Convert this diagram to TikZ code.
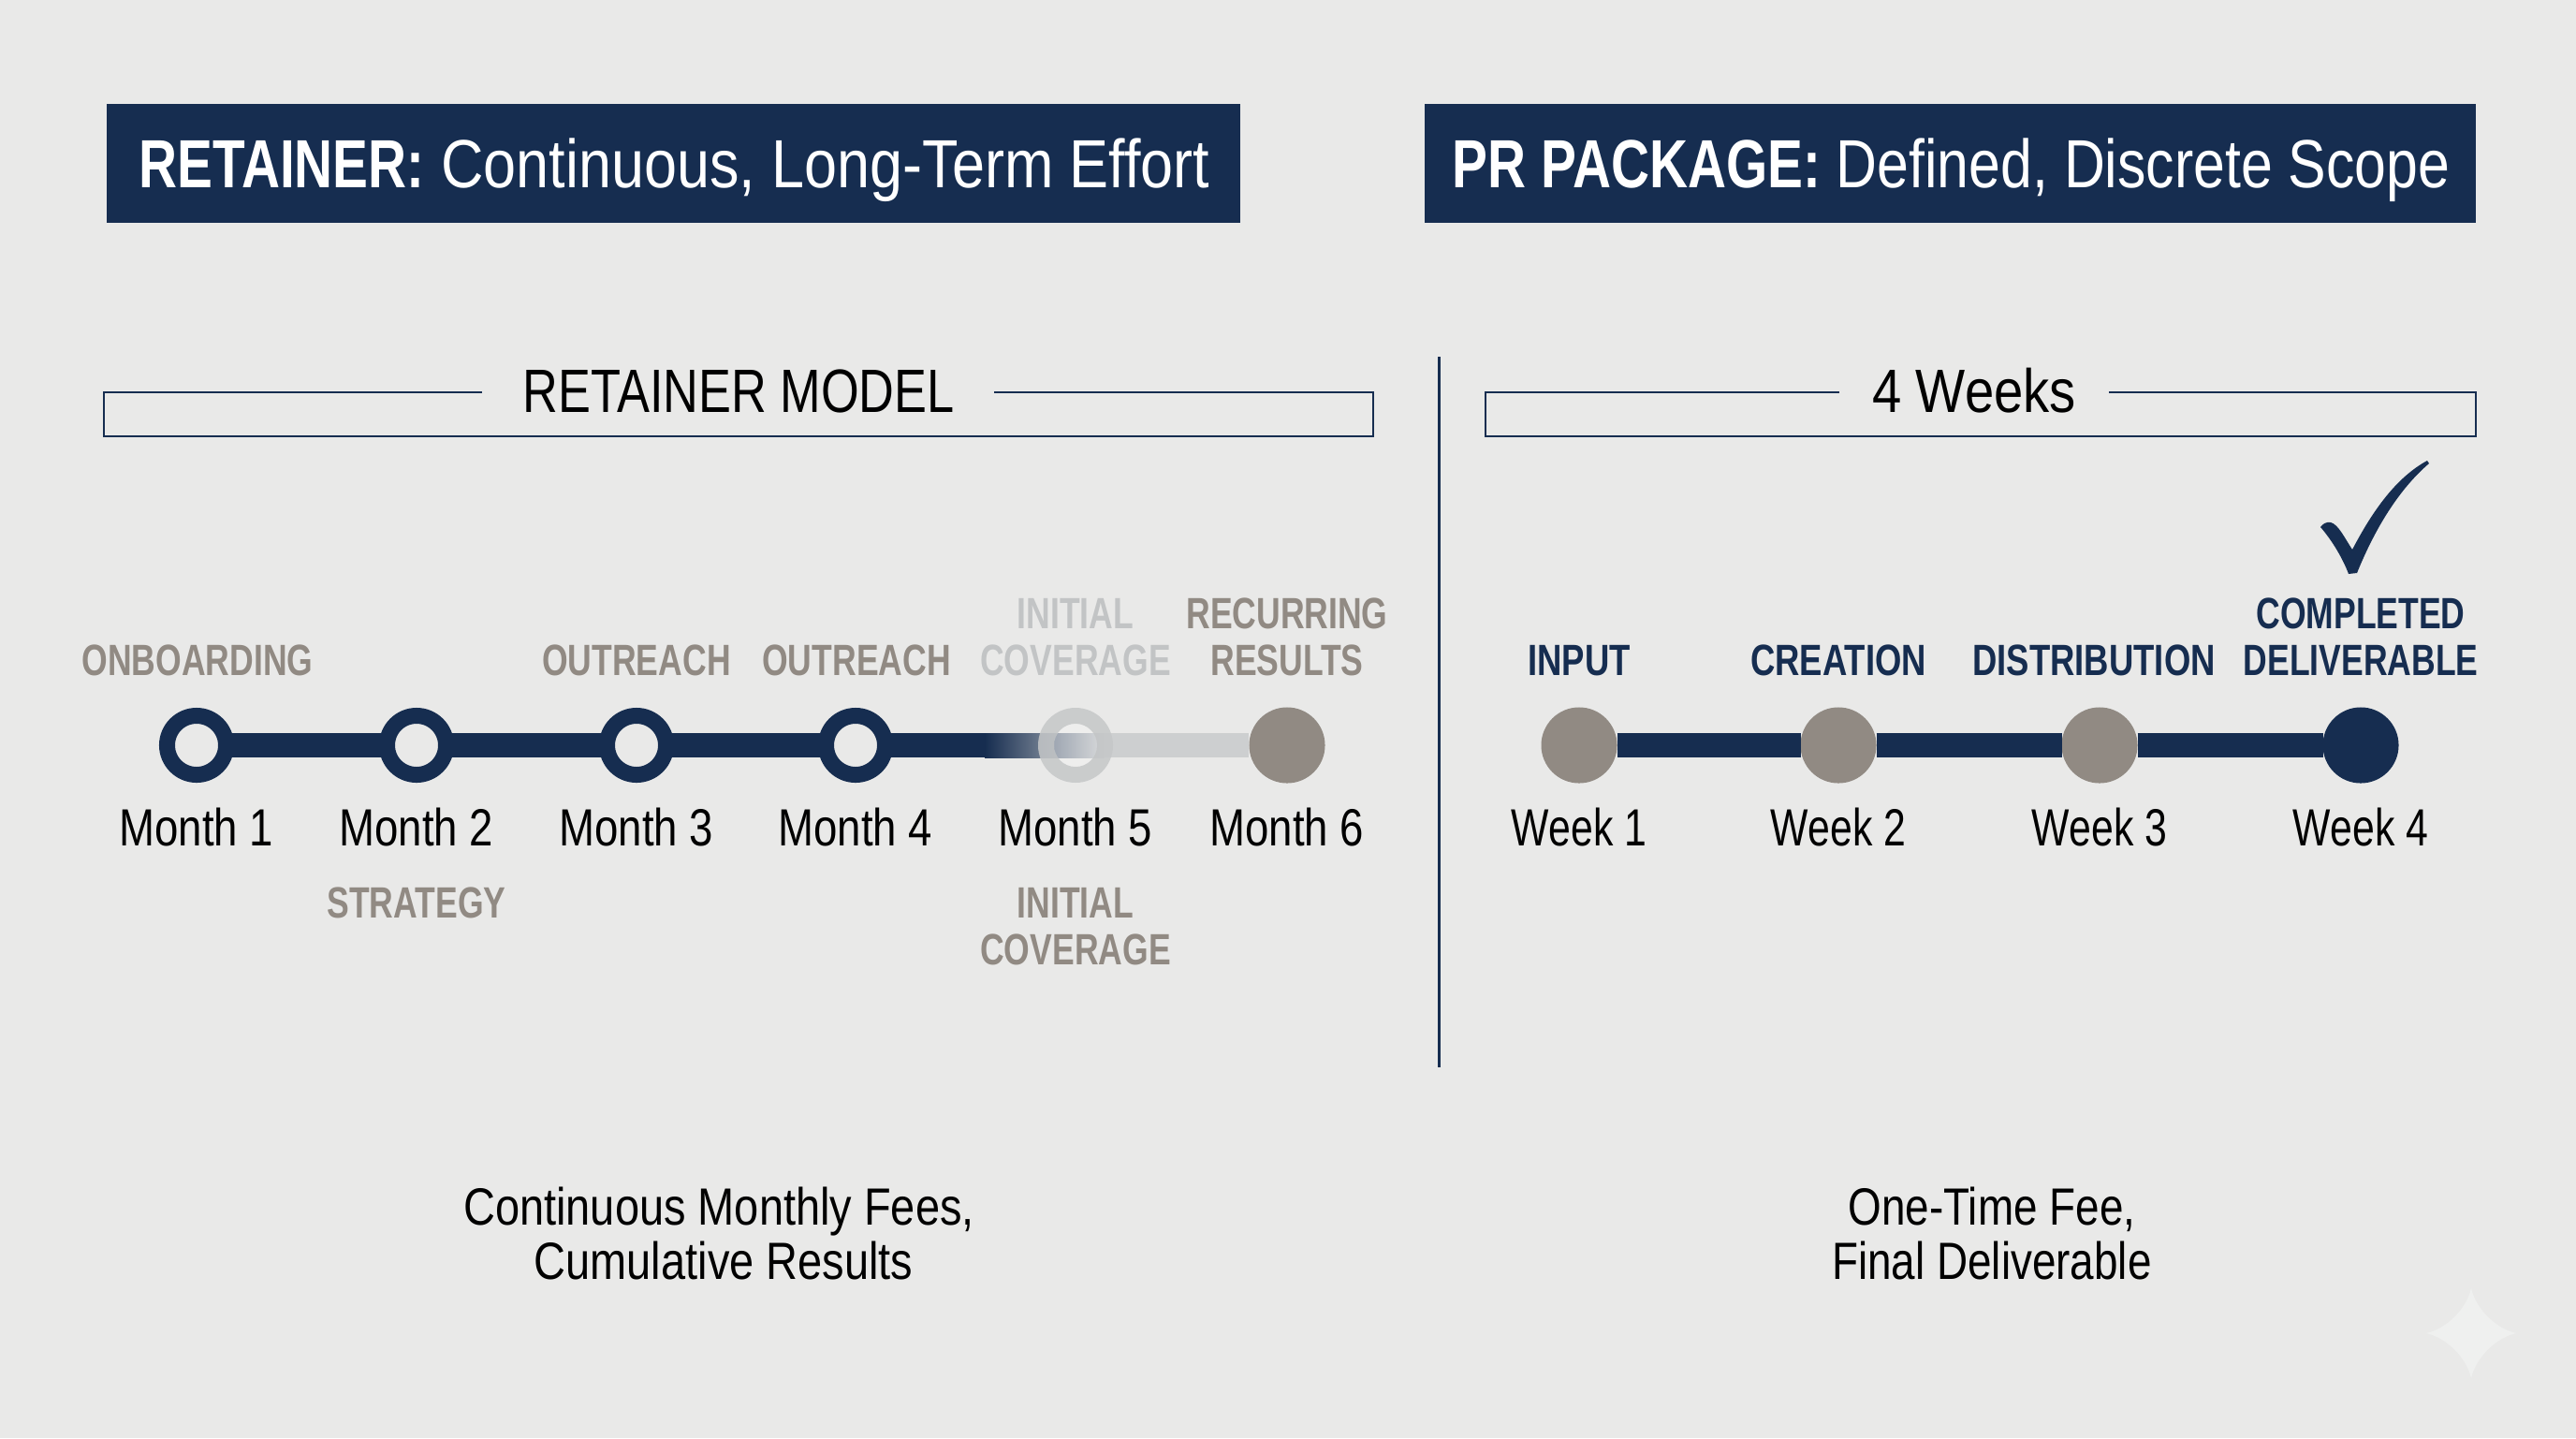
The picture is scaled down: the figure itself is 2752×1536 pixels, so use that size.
\documentclass[tikz,border=0pt]{standalone}
\usepackage{fontspec}
\setmainfont{Liberation Sans}[FakeStretch=0.78,BoldFeatures={FakeStretch=0.76}]
\newcommand\fsw[1]{\fontspec{Liberation Sans}[FakeStretch=#1,BoldFeatures={FakeStretch=0.78}]}
\definecolor{bgc}{HTML}{E9E9E8}
\definecolor{navy}{HTML}{162D50}
\definecolor{stone}{HTML}{918A83}
\definecolor{paleline}{HTML}{CDCFD0}
\definecolor{palering}{HTML}{C5C7C8}
\definecolor{palelabel}{HTML}{C2C4C5}
\definecolor{starc}{HTML}{EFF0EF}
\tikzset{
  ring/.style={circle,draw=navy,line width=.17cm,fill=bgc,minimum size=.63cm,inner sep=0pt},
  dotstone/.style={circle,fill=stone,minimum size=.81cm,inner sep=0pt,outer sep=0pt},
  dotnavy/.style={circle,fill=navy,minimum size=.81cm,inner sep=0pt,outer sep=0pt},
  bar/.style={draw=navy,line width=.26cm},
  ringbar/.style={bar,shorten <=-.03cm,shorten >=-.03cm},
  headerl/.style={anchor=base west,inner sep=0pt,text=white,font=\fsw{0.865}\fontsize{20.7pt}{25pt}\selectfont},
  headerr/.style={headerl,font=\fsw{0.835}\fontsize{20.7pt}{25pt}\selectfont},
  headbox/.style={fill=navy,draw=none},
  frameline/.style={draw=navy,line width=.028cm},
  sectitle/.style={anchor=base,inner sep=0pt,text=black,font=\fsw{0.80}\fontsize{18.6pt}{22pt}\selectfont},
  sectitlewide/.style={sectitle,font=\fsw{0.86}\fontsize{18.6pt}{22pt}\selectfont},
  tickmonth/.style={anchor=base,inner sep=0pt,text=black,font=\fsw{0.815}\fontsize{15.9pt}{19pt}\selectfont},
  tickweek/.style={anchor=base,inner sep=0pt,text=black,font=\fsw{0.765}\fontsize{15.9pt}{19pt}\selectfont},
  stage/.style={anchor=base,inner sep=0pt,align=center,text=stone,font=\bfseries\fontsize{13.3pt}{14.2pt}\selectfont},
  stagenavy/.style={stage,text=navy,font=\fsw{0.78}\bfseries\fontsize{13.3pt}{14.2pt}\selectfont},
  stagefinal/.style={stage,text=navy},
  stagepale/.style={stage,text=palelabel},
  summaryl/.style={anchor=base,inner sep=0pt,align=center,text=black,font=\fsw{0.84}\fontsize{15.9pt}{16.4pt}\selectfont},
  summaryr/.style={summaryl,font=\fsw{0.82}\fontsize{15.9pt}{16.4pt}\selectfont},
}
\begin{document}
\begin{tikzpicture}[x=.01cm,y=-.01cm]
\fill[bgc] (0,0) rectangle (2752,1536);
\useasboundingbox (0,0) rectangle (2752,1536);
% star
\fill[starc] (2640,1376) .. controls (2645,1398) and (2666,1419) .. (2688,1424)
  .. controls (2666,1429) and (2645,1450) .. (2640,1472)
  .. controls (2635,1450) and (2614,1429) .. (2592,1424)
  .. controls (2614,1419) and (2635,1398) .. (2640,1376) -- cycle;
% header boxes
\fill[headbox] (114,111) rectangle (1325,238);
\fill[headbox] (1522,111) rectangle (2645,238);
\node[headerl] (hl) at (148,200) {\textbf{RETAINER:} Continuous, Long-Term Effort};
\node[headerr] (hr) at (1551,200) {\textbf{PR PACKAGE:} Defined, Discrete Scope};
% frames
\draw[frameline] (515,419) -- (111,419) -- (111,466) -- (1467,466) -- (1467,419) -- (1062,419);
\draw[frameline] (1965,419) -- (1587,419) -- (1587,466) -- (2645,466) -- (2645,419) -- (2253,419);
\node[sectitle] (tl) at (789,440) {RETAINER MODEL};
\node[sectitlewide] (tr) at (2109,440) {4 Weeks};
% divider
\coordinate (d1) at (1537,381);
\coordinate (d2) at (1537,1140);
\draw[navy,line width=.03cm] (d1) -- (d2);
% left timeline nodes
\coordinate (fa) at (1052,796);
\coordinate (fb) at (1180,796);
\node[ring] (m1) at (210,796) {};
\node[ring] (m2) at (445,796) {};
\node[ring] (m3) at (680,796) {};
\node[ring] (m4) at (914,796) {};
\node[dotstone] (m6) at (1375,796) {};
\coordinate (m5) at (1149,796);
\draw[ringbar] (m1) -- (m2);
\draw[ringbar] (m2) -- (m3);
\draw[ringbar] (m3) -- (m4);
\draw[bar,shorten <=-.03cm] (m4) -- (fa);
\shade[left color=navy,right color=paleline] (1052,783) rectangle (1180,809);
\draw[draw=paleline,line width=.26cm] (fb) -- (m6);
\fill[palering,opacity=.85,even odd rule] (m5) circle[radius=40] (m5) circle[radius=23];
\fill[white,opacity=.25] (m5) circle[radius=23];
% left labels
\node[tickmonth] (lm1) at (210,903) {Month 1};
\node[tickmonth] (lm2) at (445,903) {Month 2};
\node[tickmonth] (lm3) at (680,903) {Month 3};
\node[tickmonth] (lm4) at (914,903) {Month 4};
\node[tickmonth] (lm5) at (1149,903) {Month 5};
\node[tickmonth] (lm6) at (1375,903) {Month 6};
\node[stage] (s1) at (211,721) {ONBOARDING};
\node[stage] (s2) at (445,980) {STRATEGY};
\node[stage] (s3) at (680,721) {OUTREACH};
\node[stage] (s4) at (915,721) {OUTREACH};
\node[stagepale] (s5) at (1149,721) {INITIAL\\COVERAGE};
\node[stage] (s6) at (1375,721) {RECURRING\\RESULTS};
\node[stage] (s7) at (1149,1030) {INITIAL\\COVERAGE};
% right timeline
\node[dotstone] (w1) at (1687,796) {};
\node[dotstone] (w2) at (1964,796) {};
\node[dotstone] (w3) at (2243,796) {};
\node[dotnavy] (w4) at (2522,796) {};
\draw[bar] (w1) -- (w2);
\draw[bar] (w2) -- (w3);
\draw[bar] (w3) -- (w4);
\node[tickweek] (lw1) at (1687,903) {Week 1};
\node[tickweek] (lw2) at (1964,903) {Week 2};
\node[tickweek] (lw3) at (2243,903) {Week 3};
\node[tickweek] (lw4) at (2522,903) {Week 4};
\node[stagenavy] (r1) at (1687,721) {INPUT};
\node[stagenavy] (r2) at (1964,721) {CREATION};
\node[stagenavy] (r3) at (2237,721) {DISTRIBUTION};
\node[stagefinal] (r4) at (2522,721) {COMPLETED\\DELIVERABLE};
% check mark
\fill[navy] (2595,495) -- (2593,492) .. controls (2560,510) and (2535,545) .. (2513,587)
  .. controls (2505,575) and (2498,560) .. (2490,558)
  .. controls (2485,557) and (2481,560) .. (2479,563)
  .. controls (2492,578) and (2503,597) .. (2509,613)
  -- (2518,612) .. controls (2535,570) and (2560,525) .. (2595,495) -- cycle;
% bottom text
\node[summaryl] (bl) at (768,1366) {Continuous Monthly Fees,\\\hspace*{.1cm}Cumulative Results};
\node[summaryr] (br) at (2128,1366) {One-Time Fee,\\Final Deliverable};
\end{tikzpicture}
\end{document}
